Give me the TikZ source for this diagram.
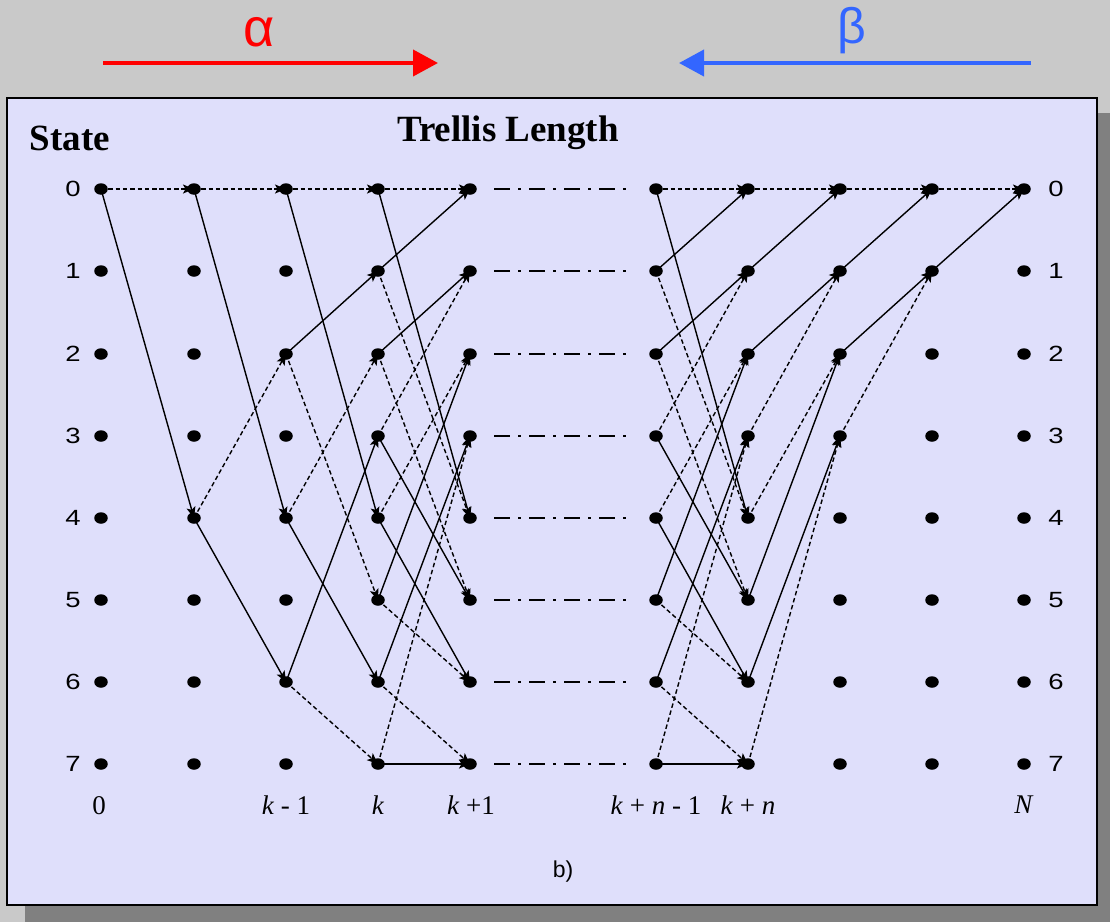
\documentclass[tikz,border=0pt]{standalone}
\usepackage{fontspec}
\usepackage{graphicx}
\setmainfont{Liberation Serif}
\newfontfamily\arialf{Liberation Sans}
\usetikzlibrary{arrows.meta,shapes.geometric}
\definecolor{bggray}{RGB}{201,201,201}
\definecolor{boxfill}{RGB}{223,223,251}
\definecolor{shadowgray}{RGB}{128,128,128}
\definecolor{betablue}{RGB}{51,102,255}
\definecolor{alphared}{RGB}{255,0,0}
\begin{document}
\begin{tikzpicture}[x=1pt,y=-1pt,
  dot/.style={ellipse, fill=black, minimum width=13.5pt, minimum height=11.5pt, inner sep=0pt},
  sol/.style={line width=1.4pt, -{Stealth[length=11pt,width=9pt,inset=2.5pt]}},
  dsh/.style={sol, dash pattern=on 4.5pt off 2.8pt},
  dd/.style={line width=1.6pt, dash pattern=on 16pt off 8pt on 3pt off 8pt, shorten <=24pt, shorten >=30pt},
  stlab/.style={font=\arialf\fontsize{22}{24}\selectfont, inner sep=0pt},
  axlab/.style={font=\fontsize{27}{30}\selectfont, inner sep=0pt},
  bigarrow/.style={line width=4pt, -{Triangle[length=25pt,width=26pt]}},
]
\useasboundingbox (0,0) rectangle (1110,922);
\fill[bggray] (0,0) rectangle (1110,922);
\fill[shadowgray] (25,113) rectangle (1110,922);
\draw[fill=boxfill, line width=1.5pt] (7,98) rectangle (1097,905);

% alpha / beta arrows
\coordinate (ra) at (103,63);
\coordinate (rb) at (438,63);
\coordinate (ba) at (1031,63);
\coordinate (bb) at (679,63);
\draw[bigarrow, alphared] (ra) -- (rb);
\draw[bigarrow, betablue] (ba) -- (bb);
\node[font=\arialf\fontsize{54}{58}\selectfont, text=alphared] (alpha) at (259,32) {α};
\node[font=\arialf\fontsize{50}{54}\selectfont, text=betablue] (beta) at (852,31) {β};

% titles
\node[font=\bfseries\fontsize{37}{42}\selectfont] (statet) at (70,138) {State};
\node[font=\bfseries\fontsize{37}{42}\selectfont] (trell) at (508,133) {Trellis Length};

% dots
\foreach \c/\x in {0/101,1/194,2/286,3/378,4/470,5/656,6/748,7/840,8/932,9/1024}{
  \foreach \r/\y in {0/189,1/271,2/354,3/436,4/518,5/600,6/682,7/764}{
    \node[dot] (n\c-\r) at (\x,\y) {};
  }
}

% state labels
\foreach \r/\y in {0/189,1/271,2/354,3/436,4/518,5/600,6/682,7/764}{
  \node[stlab] (sl\r) at (73,\y) {\scalebox{1.25}[1]{\r}};
  \node[stlab] (sr\r) at (1056,\y) {\scalebox{1.25}[1]{\r}};
}

% dash-dot gap lines
\foreach \r in {0,...,7}{
  \draw[dd] (n4-\r.center) -- (n5-\r.center);
}

% solid transitions
\foreach \a/\b/\s/\t in {0/1/0/4,
  1/2/0/4, 1/2/4/6,
  2/3/0/4, 2/3/2/1, 2/3/4/6, 2/3/6/3,
  3/4/0/4, 3/4/1/0, 3/4/2/1, 3/4/3/5, 3/4/4/6, 3/4/5/2, 3/4/6/3, 3/4/7/7,
  5/6/0/4, 5/6/1/0, 5/6/2/1, 5/6/3/5, 5/6/4/6, 5/6/5/2, 5/6/6/3, 5/6/7/7,
  6/7/1/0, 6/7/2/1, 6/7/5/2, 6/7/6/3,
  7/8/1/0, 7/8/2/1,
  8/9/1/0}{
  \draw[sol] (n\a-\s.center) -- (n\b-\t.center);
}
% dashed transitions
\foreach \a/\b/\s/\t in {0/1/0/0,
  1/2/0/0, 1/2/4/2,
  2/3/0/0, 2/3/2/5, 2/3/4/2, 2/3/6/7,
  3/4/0/0, 3/4/1/4, 3/4/2/5, 3/4/3/1, 3/4/4/2, 3/4/5/6, 3/4/6/7, 3/4/7/3,
  5/6/0/0, 5/6/1/4, 5/6/2/5, 5/6/3/1, 5/6/4/2, 5/6/5/6, 5/6/6/7, 5/6/7/3,
  6/7/0/0, 6/7/3/1, 6/7/4/2, 6/7/7/3,
  7/8/0/0, 7/8/3/1,
  8/9/0/0}{
  \draw[dsh] (n\a-\s.center) -- (n\b-\t.center);
}

% axis labels
\node[axlab] (x0) at (99,806) {0};
\node[axlab] (x1) at (286,805) {\textit{k} - 1};
\node[axlab] (x2) at (378,805) {\textit{k}};
\node[axlab] (x3) at (471,805) {\textit{k} +1};
\node[axlab] (x4) at (656,805) {\textit{k} + \textit{n} - 1};
\node[axlab] (x5) at (748,805) {\textit{k} + \textit{n}};
\node[axlab] (x6) at (1024,805) {\textit{N}};

\node[font=\arialf\fontsize{23}{26}\selectfont] (cap) at (563,872) {b)};
\end{tikzpicture}
\end{document}
